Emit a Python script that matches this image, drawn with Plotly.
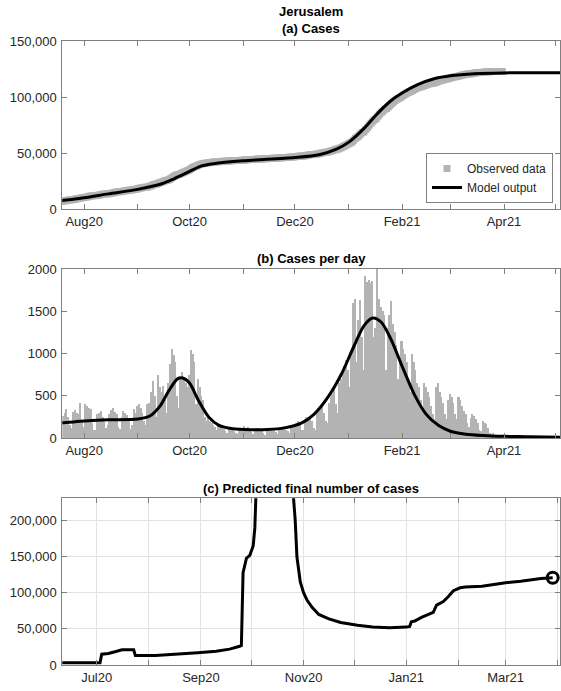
import datetime as dt
import numpy as np
import plotly.graph_objects as go

# ---------------- data ----------------
obs_start = "2020-07-19"
obs_initial_cases = 6500  # cumulative cases before first observed day

daily_jul = [280, 260, 300, 340, 250, 150, 120, 310, 330, 300, 290, 420, 200]
daily_aug = [130, 400, 380, 350, 340, 180, 100, 90, 280, 300, 320, 250, 200, 120, 150, 290,
             330, 360, 310, 280, 130, 110, 250, 320, 300, 270, 230, 110, 150, 340, 300]
daily_sep = [380, 400, 350, 300, 200, 150, 400, 420, 550, 680, 500, 250, 750, 600, 550,
             620, 450, 300, 650, 880, 1050, 980, 900, 500, 350, 720, 780, 700, 650, 600]
daily_oct = [750, 1040, 1000, 900, 400, 700, 600, 500, 450, 250, 200, 250, 200, 180, 150, 130,
             100, 150, 130, 120, 110, 80, 60, 130, 120, 100, 80, 60, 50, 90, 100]
daily_nov = [120, 140, 110, 130, 100, 70, 50, 90, 120, 100, 110, 80, 60, 40, 100, 120, 90, 110,
             100, 70, 50, 110, 130, 120, 140, 100, 80, 60, 150, 160]
daily_dec = [170, 180, 200, 150, 100, 90, 220, 250, 230, 260, 200, 120, 100, 300, 330, 350, 380,
             300, 200, 180, 420, 480, 520, 600, 400, 300, 650, 700, 800, 850, 920]
daily_jan = [800, 600, 1000, 1600, 1650, 900, 1400, 1630, 1200, 800, 1920, 1850, 1870, 1840,
             1860, 1200, 1300, 2000, 1650, 1550, 1500, 1450, 800, 1300, 1450, 1620, 1350, 1250,
             1100, 700, 950]
daily_feb = [1150, 1050, 1000, 900, 650, 550, 1000, 900, 800, 650, 600, 450, 350, 650, 600, 550,
             480, 380, 280, 220, 600, 650, 550, 480, 420, 280, 220, 450]
daily_mar = [520, 480, 420, 280, 220, 480, 450, 380, 320, 280, 180, 130, 240, 280, 260, 230, 180,
             100, 80, 200, 180, 160, 120, 60, 40, 60, 40, 30, 20, 15, 15]

model_dates = ["2020-07-12", "2020-07-19", "2020-08-01", "2020-08-15", "2020-09-01", "2020-09-08",
               "2020-09-14", "2020-09-19", "2020-09-24", "2020-09-27", "2020-10-01", "2020-10-06",
               "2020-10-12", "2020-10-18", "2020-10-26", "2020-11-05", "2020-11-15", "2020-11-25",
               "2020-12-05", "2020-12-12", "2020-12-20", "2020-12-28", "2021-01-04", "2021-01-10",
               "2021-01-15", "2021-01-20", "2021-01-26", "2021-02-01", "2021-02-08", "2021-02-15",
               "2021-02-22", "2021-03-01", "2021-03-10", "2021-03-20", "2021-04-01", "2021-04-15",
               "2021-05-04"]
model_daily = [175, 180, 200, 215, 225, 260, 380, 560, 700, 710, 650, 450, 250, 150, 110, 98, 100,
               120, 180, 280, 480, 760, 1080, 1330, 1420, 1370, 1150, 850, 520, 280, 150, 80, 45,
               30, 20, 14, 10]

model_cum_dates = ["2020-07-12", "2020-07-19", "2020-08-01", "2020-08-15", "2020-09-01",
                   "2020-09-15", "2020-09-22", "2020-10-01", "2020-10-08", "2020-10-15",
                   "2020-11-01", "2020-12-01", "2020-12-15", "2020-12-25", "2021-01-01",
                   "2021-01-10", "2021-01-17", "2021-01-25", "2021-02-01", "2021-02-10",
                   "2021-02-20", "2021-03-01", "2021-03-15", "2021-04-01", "2021-05-04"]
model_cum = [6500, 7500, 10000, 13500, 17500, 22500, 27000, 33500, 38500, 40500, 43000, 46000,
             48500, 53500, 59500, 72000, 84000, 96000, 103500, 111000, 116500, 119000, 120800,
             121500, 121700]

pred_dates = ["2020-06-10", "2020-07-03", "2020-07-04", "2020-07-08", "2020-07-13", "2020-07-16",
              "2020-07-23", "2020-07-24", "2020-08-05", "2020-08-15", "2020-08-30", "2020-09-10",
              "2020-09-18", "2020-09-24", "2020-09-25", "2020-09-26", "2020-09-28", "2020-09-30",
              "2020-10-02", "2020-10-03", "2020-10-04", "2020-10-06", "2020-10-24", "2020-10-26",
              "2020-10-27", "2020-10-28", "2020-10-30", "2020-11-01", "2020-11-03", "2020-11-06",
              "2020-11-10", "2020-11-16", "2020-11-23", "2020-12-03", "2020-12-12", "2020-12-22",
              "2021-01-01", "2021-01-03", "2021-01-04", "2021-01-06", "2021-01-10", "2021-01-14",
              "2021-01-17", "2021-01-19", "2021-01-21", "2021-01-23", "2021-01-26", "2021-01-29",
              "2021-02-02", "2021-02-05", "2021-02-15", "2021-02-20", "2021-03-01", "2021-03-10",
              "2021-03-15", "2021-03-22", "2021-03-29"]
pred_final = [3000, 3000, 15000, 16000, 19000, 21000, 21000, 13000, 13000, 15000, 17000, 19000,
              22000, 26000, 27000, 128000, 148000, 152000, 165000, 190000, 240000, 400000, 400000,
              231000, 200000, 150000, 115000, 100000, 90000, 80000, 70000, 64000, 59000, 55000,
              52500, 51500, 52500, 53500, 60000, 61000, 66000, 70000, 73000, 83000, 86000, 88000,
              95000, 103000, 107000, 108000, 109000, 111000, 114000, 116000, 118000, 120000,
              121000]

# ---------------- derived ----------------
obs_daily = daily_jul + daily_aug + daily_sep + daily_oct + daily_nov + daily_dec + daily_jan + daily_feb + daily_mar
d0 = dt.date.fromisoformat(obs_start)
obs_dates = [d0 + dt.timedelta(days=i) for i in range(len(obs_daily))]
obs_cum = list(obs_initial_cases + np.cumsum(obs_daily))

W, H = 561, 691
FONT = "Liberation Sans"
AX = "#808080"
TXT = "#262626"

def px_x(p):
    return p / W

def px_y(p):
    return 1 - p / H

fig = go.Figure()

fig.add_trace(go.Scatter(x=obs_dates, y=obs_cum, mode="markers", name="Observed data",
                         marker=dict(symbol="square", size=7, color="#b3b3b3"),
                         xaxis="x", yaxis="y"))
fig.add_trace(go.Scatter(x=model_cum_dates, y=model_cum, mode="lines", name="Model output",
                         line=dict(color="black", width=3, shape="spline", smoothing=0.8),
                         xaxis="x", yaxis="y"))

fig.add_trace(go.Bar(x=obs_dates, y=obs_daily, marker=dict(color="#b3b3b3", line=dict(width=0)),
                     width=86400000, showlegend=False, xaxis="x2", yaxis="y2"))
fig.add_trace(go.Scatter(x=model_dates, y=model_daily, mode="lines",
                         line=dict(color="black", width=3, shape="spline", smoothing=0.8),
                         showlegend=False, xaxis="x2", yaxis="y2"))

fig.add_trace(go.Scatter(x=pred_dates, y=pred_final, mode="lines",
                         line=dict(color="black", width=3),
                         showlegend=False, xaxis="x3", yaxis="y3"))
fig.add_trace(go.Scatter(x=[pred_dates[-1]], y=[pred_final[-1]], mode="markers",
                         marker=dict(symbol="circle-open", size=11, color="black", line=dict(width=3)),
                         showlegend=False, cliponaxis=False, xaxis="x3", yaxis="y3"))

xdom = [px_x(62.3), px_x(560)]

def xaxis(dom_anchor, rng, tick0, grid=False):
    return dict(type="date", domain=xdom, anchor=dom_anchor, range=rng, automargin=False,
                showline=True, linecolor=AX, linewidth=1, mirror="ticks",
                ticks="inside", ticklen=5, tickcolor=AX, dtick="M2", tick0=tick0,
                tickformat="%b%y", tickfont=dict(family=FONT, size=13, color=TXT),
                showgrid=grid, gridcolor="#e3e3e3", gridwidth=1, zeroline=False,
                minor=dict(dtick="M1", ticks="inside", ticklen=5, tickcolor=AX,
                           showgrid=grid, gridcolor="#e3e3e3", gridwidth=1))

def yaxis(dom, anchor, rng, dtick, fmt, grid=False):
    return dict(domain=dom, anchor=anchor, range=rng, dtick=dtick, tickformat=fmt,
                automargin=False, ticklabelstandoff=2,
                showline=True, linecolor=AX, linewidth=1, mirror="ticks",
                ticks="inside", ticklen=5, tickcolor=AX,
                tickfont=dict(family=FONT, size=13, color=TXT),
                showgrid=grid, gridcolor="#e3e3e3", gridwidth=1, zeroline=False)

rng_ab = ["2020-07-19 08:00", "2021-05-03 10:00"]
rng_c = ["2020-06-10 14:00", "2021-04-02 08:00"]

fig.update_layout(
    width=W, height=H, margin=dict(l=0, r=0, t=0, b=0, autoexpand=False),
    paper_bgcolor="white", plot_bgcolor="white",
    font=dict(family=FONT, color=TXT),
    bargap=0,
    xaxis=xaxis("y", rng_ab, "2020-08-01"),
    yaxis=yaxis([px_y(209), px_y(41)], "x", [0, 150000], 50000, ","),
    xaxis2=xaxis("y2", rng_ab, "2020-08-01"),
    yaxis2=yaxis([px_y(438), px_y(269)], "x2", [0, 2000], 500, "d"),
    xaxis3=xaxis("y3", rng_c, "2020-07-01", grid=True),
    yaxis3=yaxis([px_y(665), px_y(498.3)], "x3", [0, 231000], 50000, ",", grid=True),
    legend=dict(x=px_x(553), xanchor="right", y=px_y(203), yanchor="bottom",
                bgcolor="white", bordercolor="#808080", borderwidth=1,
                font=dict(family=FONT, size=12, color=TXT), tracegroupgap=0,
                itemwidth=30),
    showlegend=True,
)

cx = (xdom[0] + xdom[1]) / 2
titles = [("<b>Jerusalem</b>", 12), ("<b>(a) Cases</b>", 28), ("<b>(b) Cases per day</b>", 258),
          ("<b>(c) Predicted final number of cases</b>", 488)]
for txt, ypix in titles:
    fig.add_annotation(text=txt, x=cx, y=px_y(ypix), xref="paper", yref="paper",
                       showarrow=False, xanchor="center", yanchor="middle",
                       font=dict(family=FONT, size=13, color="black"))

fig.write_html("out.html", config={"displayModeBar": False},
               post_script="document.body.style.margin='0';document.body.style.overflow='hidden';")
